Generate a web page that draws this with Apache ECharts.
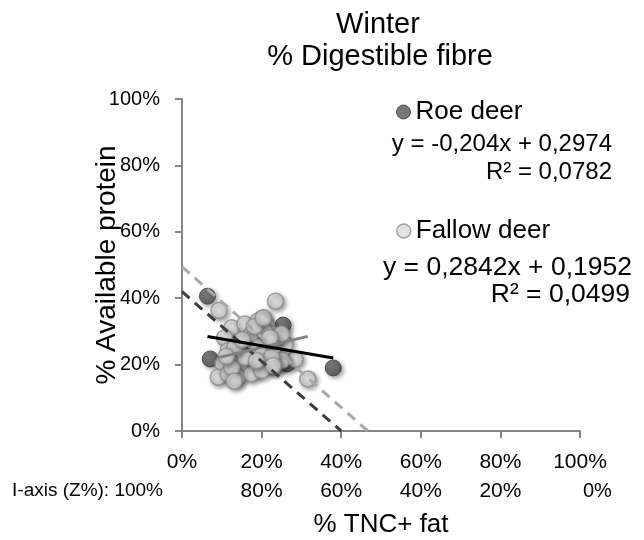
<!DOCTYPE html>
<html>
<head>
<meta charset="utf-8">
<script src="https://cdn.jsdelivr.net/npm/echarts@6/dist/echarts.min.js"></script>
<style>
  html, body { margin: 0; padding: 0; background: #ffffff; }
  #chart { width: 644px; height: 540px; }
</style>
</head>
<body>
<div id="chart"></div>
<script>
// Text
const chartTitle = 'Winter';
const chartSubtitle = '% Digestible fibre';
const xAxisTitle = '% TNC+ fat';
const yAxisTitle = '% Available protein';
const zAxisCaption = 'I-axis (Z%):';
const xTickLabels = ['0%', '20%', '40%', '60%', '80%', '100%'];
const zTickLabels = ['100%', '80%', '60%', '40%', '20%', '0%'];
const yTickLabels = ['0%', '20%', '40%', '60%', '80%', '100%'];
const seriesNames = ['Roe deer', 'Fallow deer'];

// Roe deer samples (proportions)
const roeX = [0.064, 0.071, 0.254, 0.264, 0.380, 0.203, 0.146];
const roeY = [0.406, 0.217, 0.319, 0.202, 0.190, 0.340, 0.190];

// Fallow deer samples (proportions)
const fallowX = [0.093, 0.235, 0.284, 0.316, 0.125, 0.158, 0.191, 0.213, 0.225, 0.200,
                 0.175, 0.107, 0.141, 0.116, 0.167, 0.191, 0.233, 0.259, 0.103, 0.133,
                 0.158, 0.183, 0.208, 0.233, 0.250, 0.091, 0.116, 0.141, 0.175, 0.200,
                 0.125, 0.158, 0.200, 0.225, 0.133, 0.208, 0.233, 0.250, 0.182, 0.204,
                 0.221, 0.187, 0.229, 0.131, 0.151, 0.111];
const fallowY = [0.363, 0.391, 0.216, 0.157, 0.311, 0.322, 0.331, 0.316, 0.292, 0.287,
                 0.292, 0.281, 0.262, 0.242, 0.242, 0.252, 0.252, 0.262, 0.202, 0.212,
                 0.202, 0.207, 0.202, 0.192, 0.212, 0.162, 0.172, 0.162, 0.172, 0.182,
                 0.192, 0.222, 0.227, 0.222, 0.252, 0.301, 0.277, 0.292, 0.315, 0.341,
                 0.281, 0.212, 0.197, 0.150, 0.275, 0.225];

// Linear fits y = slope * x + intercept
const roeFit = [-0.204, 0.2974, 0.0782];     // slope, intercept, R²
const fallowFit = [0.2842, 0.1952, 0.0499];  // slope, intercept, R²

// Constant-Z isolines (mean I-axis value per species)
const roeIsoX = [0, 0.40];
const roeIsoY = [0.42, 0];
const fallowIsoX = [0, 0.467];
const fallowIsoY = [0.495, 0];

const FONT = '"Liberation Sans", Arial, sans-serif';
const AXIS_GREY = '#868686';
const TICK_FONT = 21;

const zip = (xs, ys) => xs.map((x, i) => [x, ys[i]]);
const comma = v => String(v).replace('.', ',');
const fitLine = (xs, fit) => {
  const lo = Math.min(...xs), hi = Math.max(...xs);
  return [[lo, fit[0] * lo + fit[1]], [hi, fit[0] * hi + fit[1]]];
};
const equation = fit => 'y = ' + comma(fit[0]) + 'x + ' + comma(fit[1]);
const rSquared = fit => 'R² = ' + comma(fit[2]);
const tickIndex = v => Math.round(v / 0.2);

const roeFill = {
  type: 'radial', x: 0.4, y: 0.4, r: 0.65,
  colorStops: [{ offset: 0, color: '#6b6b6b' }, { offset: 1, color: '#4a4a4a' }]
};
const fallowFill = {
  type: 'radial', x: 0.4, y: 0.4, r: 0.65,
  colorStops: [{ offset: 0, color: '#efefef' }, { offset: 1, color: '#cdcdcd' }]
};
const markerShadow = {
  shadowBlur: 4, shadowOffsetX: 2, shadowOffsetY: 2, shadowColor: 'rgba(0,0,0,0.45)'
};

// Second label row: complementary I-axis value under each tick
const zLabel = v => {
  const i = tickIndex(v);
  if (i === 0) return '{first|' + zAxisCaption + ' ' + zTickLabels[0] + '}';
  if (i === zTickLabels.length - 1) return '{last|' + zTickLabels[i] + '}';
  return zTickLabels[i];
};

const chart = echarts.init(document.getElementById('chart'), null, { renderer: 'canvas' });

chart.setOption({
  animation: false,
  backgroundColor: '#ffffff',
  textStyle: { fontFamily: FONT },
  title: [
    { text: chartTitle, left: 373, top: 5, textAlign: 'center',
      textStyle: { fontSize: 29, fontWeight: 'normal', color: '#000', fontFamily: FONT } },
    { text: chartSubtitle, left: 375, top: 37, textAlign: 'center',
      textStyle: { fontSize: 29, fontWeight: 'normal', color: '#000', fontFamily: FONT } }
  ],
  legend: [
    { left: 391, top: 94, orient: 'vertical', selectedMode: false, icon: 'circle',
      itemWidth: 14, itemHeight: 14, itemGap: 0,
      textStyle: { fontSize: 26, color: '#000', fontFamily: FONT },
      data: [{ name: seriesNames[0],
               itemStyle: { color: '#555555', borderColor: '#3a3a3a', borderWidth: 1, shadowBlur: 0 } }] },
    { left: 391, top: 213, orient: 'vertical', selectedMode: false, icon: 'circle',
      itemWidth: 14, itemHeight: 14, itemGap: 0,
      textStyle: { fontSize: 26, color: '#000', fontFamily: FONT },
      data: [{ name: seriesNames[1],
               itemStyle: { color: '#dcdcdc', borderColor: '#8c8c8c', borderWidth: 1.5, shadowBlur: 0 } }] }
  ],
  graphic: [
    { type: 'text', right: 32, top: 132,
      style: { text: equation(roeFit), font: '24px ' + FONT, fill: '#000' } },
    { type: 'text', right: 32, top: 160,
      style: { text: rSquared(roeFit), font: '24px ' + FONT, fill: '#000' } },
    { type: 'text', right: 12, top: 254,
      style: { text: equation(fallowFit), font: '26.5px ' + FONT, fill: '#000' } },
    { type: 'text', right: 14, top: 281,
      style: { text: rSquared(fallowFit), font: '26.5px ' + FONT, fill: '#000' } }
  ],
  grid: { left: 182, right: 64, top: 99, bottom: 109, containLabel: false, outerBoundsMode: 'none' },
  xAxis: [
    {
      type: 'value', min: 0, max: 1, interval: 0.2, position: 'bottom',
      axisLine: { show: true, onZero: false, lineStyle: { color: AXIS_GREY, width: 2 } },
      axisTick: { show: true, length: 7, lineStyle: { color: AXIS_GREY, width: 2 } },
      splitLine: { show: false },
      axisLabel: { formatter: v => xTickLabels[tickIndex(v)], fontSize: TICK_FONT, color: '#000',
                   margin: 21, fontFamily: FONT },
      name: xAxisTitle, nameLocation: 'middle', nameGap: 81,
      nameTextStyle: { fontSize: 26, color: '#000', fontFamily: FONT }
    },
    {
      type: 'value', min: 0, max: 1, interval: 0.2, position: 'bottom', offset: 50,
      axisLine: { show: false, onZero: false },
      axisTick: { show: false },
      splitLine: { show: false },
      axisLabel: {
        formatter: zLabel, fontSize: TICK_FONT, color: '#000', margin: 0, fontFamily: FONT,
        alignMinLabel: 'right', alignMaxLabel: 'left',
        rich: {
          first: { fontSize: 19, color: '#000', fontFamily: FONT, padding: [0, 19, 0, 0] },
          last: { fontSize: 20, color: '#000', fontFamily: FONT, padding: [0, 0, 0, 3] }
        }
      }
    }
  ],
  yAxis: {
    type: 'value', min: 0, max: 1, interval: 0.2,
    axisLine: { show: true, onZero: false, lineStyle: { color: AXIS_GREY, width: 2 } },
    axisTick: { show: true, length: 7, lineStyle: { color: AXIS_GREY, width: 2 } },
    splitLine: { show: false },
    axisLabel: { formatter: v => yTickLabels[tickIndex(v)], fontSize: 20, color: '#000',
                 margin: 22, fontFamily: FONT },
    name: yAxisTitle, nameLocation: 'middle', nameGap: 61, nameRotate: 90,
    nameMoveOverlap: false,
    nameTextStyle: { fontSize: 28, color: '#000', fontFamily: FONT }
  },
  series: [
    {
      name: seriesNames[0], type: 'scatter', xAxisIndex: 0, symbol: 'circle', symbolSize: 16,
      data: zip(roeX, roeY), z: 2,
      itemStyle: Object.assign({ color: roeFill, borderColor: '#3a3a3a', borderWidth: 1 }, markerShadow)
    },
    {
      name: seriesNames[1], type: 'scatter', xAxisIndex: 0, symbol: 'circle', symbolSize: 16,
      data: zip(fallowX, fallowY), z: 3,
      itemStyle: Object.assign({ color: fallowFill, borderColor: '#8c8c8c', borderWidth: 1.5 }, markerShadow)
    },
    {
      name: 'roe-isoline', type: 'line', xAxisIndex: 0, data: zip(roeIsoX, roeIsoY),
      showSymbol: false, silent: true, z: 4,
      lineStyle: { color: '#3c3c3c', width: 3, type: [10, 7] }
    },
    {
      name: 'fallow-isoline', type: 'line', xAxisIndex: 0, data: zip(fallowIsoX, fallowIsoY),
      showSymbol: false, silent: true, z: 4,
      lineStyle: { color: '#a8a8a8', width: 3, type: [10, 7] }
    },
    {
      name: 'fallow-fit', type: 'line', xAxisIndex: 0, data: fitLine(fallowX, fallowFit),
      showSymbol: false, silent: true, z: 5,
      lineStyle: { color: '#808080', width: 3 }
    },
    {
      name: 'roe-fit', type: 'line', xAxisIndex: 0, data: fitLine(roeX, roeFit),
      showSymbol: false, silent: true, z: 6,
      lineStyle: { color: '#000000', width: 3 }
    }
  ]
});
</script>
</body>
</html>
